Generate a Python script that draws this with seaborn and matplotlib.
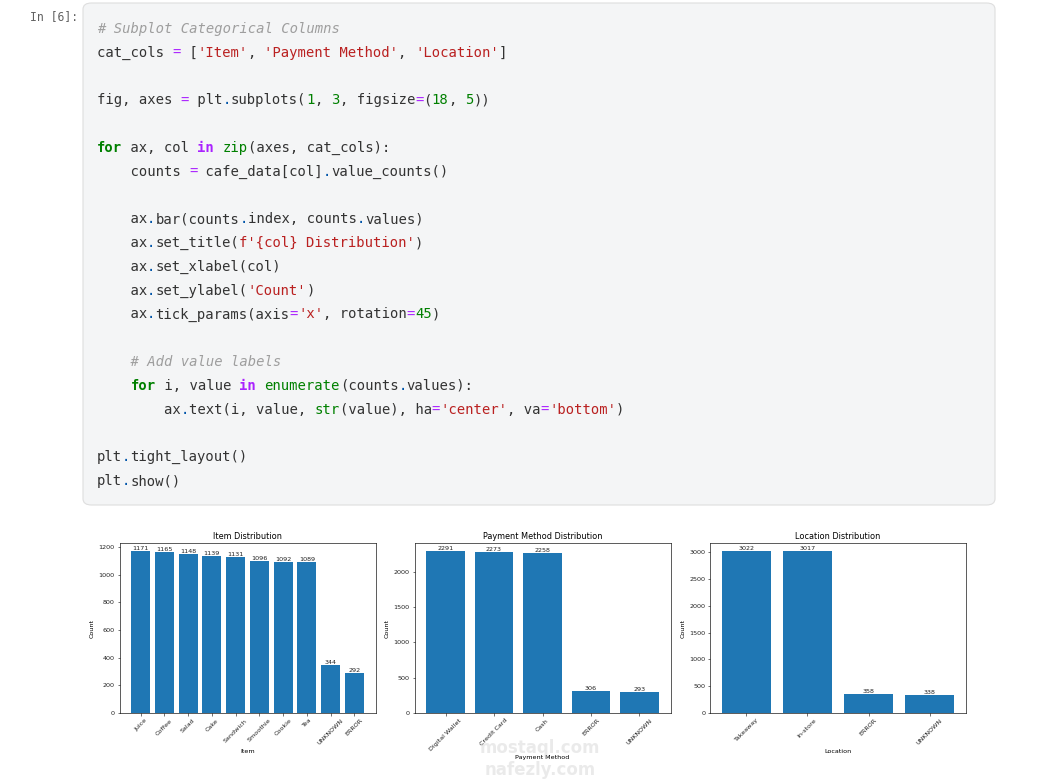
import matplotlib
matplotlib.use("Agg")
import matplotlib.pyplot as plt
from matplotlib.patches import FancyBboxPatch
import seaborn as sns

# chart data
item_names = ['Juice', 'Coffee', 'Salad', 'Cake', 'Sandwich', 'Smoothie', 'Cookie', 'Tea', 'UNKNOWN', 'ERROR']
item_counts = [1171, 1165, 1148, 1139, 1131, 1096, 1092, 1089, 344, 292]
pay_names = ['Digital Wallet', 'Credit Card', 'Cash', 'ERROR', 'UNKNOWN']
pay_counts = [2291, 2273, 2258, 306, 293]
loc_names = ['Takeaway', 'In-store', 'ERROR', 'UNKNOWN']
loc_counts = [3022, 3017, 358, 338]
cat_cols = ['Item', 'Payment Method', 'Location']

# code cell text: (token, style) per line
code_lines = [
    [("# Subplot Categorical Columns", "c")],
    [("cat_cols ", ""), ("=", "o"), (" [", ""), ("'Item'", "s"), (", ", ""), ("'Payment Method'", "s"),
     (", ", ""), ("'Location'", "s"), ("]", "")],
    [],
    [("fig, axes ", ""), ("=", "o"), (" plt", ""), (".", "d"), ("subplots(", ""), ("1", "n"), (", ", ""),
     ("3", "n"), (", figsize", ""), ("=", "o"), ("(", ""), ("18", "n"), (", ", ""), ("5", "n"), ("))", "")],
    [],
    [("for", "k"), (" ax, col ", ""), ("in", "p"), (" ", ""), ("zip", "b"), ("(axes, cat_cols):", "")],
    [("    counts ", ""), ("=", "o"), (" cafe_data[col]", ""), (".", "d"), ("value_counts()", "")],
    [],
    [("    ax", ""), (".", "d"), ("bar(counts", ""), (".", "d"), ("index, counts", ""), (".", "d"), ("values)", "")],
    [("    ax", ""), (".", "d"), ("set_title(", ""), ("f'{col} Distribution'", "s"), (")", "")],
    [("    ax", ""), (".", "d"), ("set_xlabel(col)", "")],
    [("    ax", ""), (".", "d"), ("set_ylabel(", ""), ("'Count'", "s"), (")", "")],
    [("    ax", ""), (".", "d"), ("tick_params(axis", ""), ("=", "o"), ("'x'", "s"), (", rotation", ""),
     ("=", "o"), ("45", "n"), (")", "")],
    [],
    [("    # Add value labels", "c")],
    [("    ", ""), ("for", "k"), (" i, value ", ""), ("in", "p"), (" ", ""), ("enumerate", "b"),
     ("(counts", ""), (".", "d"), ("values):", "")],
    [("        ax", ""), (".", "d"), ("text(i, value, ", ""), ("str", "b"), ("(value), ha", ""), ("=", "o"),
     ("'center'", "s"), (", va", ""), ("=", "o"), ("'bottom'", "s"), (")", "")],
    [],
    [("plt", ""), (".", "d"), ("tight_layout()", "")],
    [("plt", ""), (".", "d"), ("show()", "")],
]

styles = {
    "": dict(color="#333333"),
    "c": dict(color="#9e9e9e", style="italic"),
    "s": dict(color="#ba2121"),
    "k": dict(color="#008000", weight="bold"),
    "p": dict(color="#aa22ff", weight="bold"),
    "b": dict(color="#008000"),
    "n": dict(color="#008000"),
    "o": dict(color="#aa22ff"),
    "d": dict(color="#0055aa"),
}

W, H = 1061, 779
plt.rcParams.update({
    "axes.linewidth": 0.45,
    "xtick.major.width": 0.45, "ytick.major.width": 0.45,
    "xtick.major.size": 1.8, "ytick.major.size": 1.8,
    "xtick.major.pad": 1.7, "ytick.major.pad": 1.7,
    "xtick.labelsize": 4.6, "ytick.labelsize": 4.6,
    "xtick.color": "#222222", "ytick.color": "#222222",
    "axes.labelsize": 4.6, "axes.titlesize": 5.9,
    "axes.labelpad": 2.6, "axes.titlepad": 3.0,
})

fig = plt.figure(figsize=(W / 100, H / 100), dpi=100)

# notebook cell background
box = FancyBboxPatch((83 / W, 1 - 505 / H), (995 - 83) / W, (505 - 3) / H,
                     boxstyle="round,pad=0,rounding_size=0.008",
                     transform=fig.transFigure, facecolor="#f4f5f6",
                     edgecolor="#dedede", linewidth=0.8, zorder=0)
fig.patches.append(box)
fig.text(30 / W, 1 - 17 / H, "In [6]:", family="DejaVu Sans Mono", fontsize=8.3,
         color="#616161", va="center", ha="left")

char_w = 8.37
for li, tokens in enumerate(code_lines):
    y = 29 + li * 23.79
    col = 0
    for tok, st in tokens:
        fig.text((97 + col * char_w) / W, 1 - y / H, tok, family="DejaVu Sans Mono",
                 fontsize=10, va="center", ha="left", **styles[st])
        col += len(tok)

# the three bar charts
panels = [
    (item_names, item_counts, 119.5),
    (pay_names, pay_counts, 414.5),
    (loc_names, loc_counts, 710.0),
]
for (names, counts, left), col in zip(panels, cat_cols):
    ax = fig.add_axes([left / W, 1 - 713 / H, 256 / W, 170 / H])
    sns.barplot(x=names, y=counts, ax=ax, color="#1f77b4", saturation=1,
                width=0.8, linewidth=0)
    n = len(names)
    pad = 0.05 * (n - 0.2)
    ax.set_xlim(-0.4 - pad, n - 0.6 + pad)
    ax.set_ylim(0, max(counts) * 1.05)
    ax.set_title(f"{col} Distribution")
    ax.set_xlabel(col)
    ax.set_ylabel("Count")
    ax.tick_params(axis="x", rotation=45)
    for i, value in enumerate(counts):
        ax.text(i, value, str(value), ha="center", va="bottom", fontsize=4.6,
                color="#222222")

# faint site watermark
fig.text(540 / W, 1 - 748 / H, "mostaql.com", fontsize=12, weight="bold",
         color="#cccccc", alpha=0.4, ha="center", va="center")
fig.text(540 / W, 1 - 770 / H, "nafezly.com", fontsize=12, weight="bold",
         color="#cccccc", alpha=0.4, ha="center", va="center")

fig.savefig("out.png", dpi=100)
